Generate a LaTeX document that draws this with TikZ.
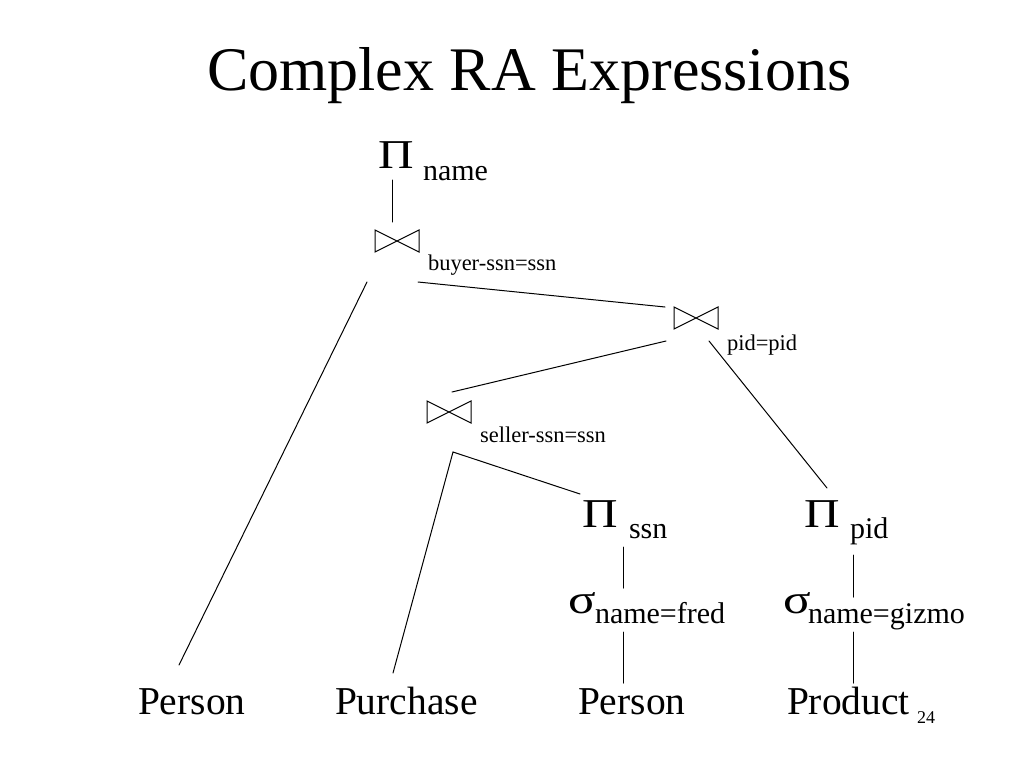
\documentclass[tikz,border=0pt]{standalone}
\usepackage{fontspec}
\setmainfont{Liberation Serif}
\newcommand{\bigPi}{\scalebox{1.2}[1]{Π}}
\newcommand{\bigsigma}{\scalebox{1.25}[1]{σ}}
\begin{document}
\begin{tikzpicture}[x=1pt,y=-1pt,
  txt/.style={inner sep=0pt,outer sep=0pt,anchor=base west},
  title/.style={txt,font=\fontsize{62}{70}\selectfont},
  rel/.style={txt,font=\fontsize{39.5}{44}\selectfont},
  opsym/.style={txt,font=\fontsize{41}{48}\selectfont},
  sub/.style={txt,font=\fontsize{30}{34}\selectfont},
  cond/.style={txt,font=\fontsize{22.5}{26}\selectfont},
  bowtie/.style={inner sep=0pt,outer sep=0pt,minimum width=44pt,minimum height=22pt,anchor=north west},
  edge/.style={line width=1pt,line cap=round},
  tie/.style={line width=1pt,line join=miter}]
\fill[white] (0,0) rectangle (1024,768);
\useasboundingbox (0,0) rectangle (1024,768);

% title
\node[title] (title) at (207,90) {Complex RA Expressions};

% projection on name
\node[opsym] (pname) at (378,168) {\bigPi};
\node[sub] (pnamesub) at (423,180) {name};

% join 1
\node[bowtie] (j1) at (375,230) {};
\node[cond] (j1c) at (428,270) {buyer-ssn=ssn};

% join 2
\node[bowtie] (j2) at (674,307) {};
\node[cond] (j2c) at (727,350) {pid=pid};

% join 3
\node[bowtie] (j3) at (427,401) {};
\node[cond] (j3c) at (480,442) {seller-ssn=ssn};

% projections
\node[opsym] (pssn) at (582,527) {\bigPi};
\node[sub] (pssnsub) at (629,538) {ssn};
\node[opsym] (ppid) at (804,527) {\bigPi};
\node[sub] (ppidsub) at (850,538) {pid};

% selections
\node[opsym] (sfred) at (568,613) {\bigsigma};
\node[sub] (sfredsub) at (595,623) {name=fred};
\node[opsym] (sgiz) at (783,613) {\bigsigma};
\node[sub] (sgizsub) at (808,623) {name=gizmo};

% relations
\node[rel] (person1) at (138,714) {Person};
\node[rel] (purchase) at (335,714) {Purchase};
\node[rel] (person2) at (578,714) {Person};
\node[rel] (product) at (787,714) {Product};
\node[txt,font=\fontsize{18}{21}\selectfont] (pagenum) at (917,723) {24};

% bowtie glyphs
\foreach \j in {j1,j2,j3}
  \draw[tie] (\j.north west) -- (\j.south east) -- (\j.north east) -- (\j.south west) -- cycle;

% connector end points
\coordinate (pname-b) at (392,180);
\coordinate (j1-t) at (392,222);
\coordinate (j1-l) at (367,282);
\coordinate (j1-r) at (418,282);
\coordinate (person1-t) at (179,665);
\coordinate (j2-t) at (665,307);
\coordinate (j2-l) at (666,341);
\coordinate (j2-r) at (709,341);
\coordinate (j3-t) at (452,392);
\coordinate (j3-apex) at (453,452);
\coordinate (purchase-t) at (393,673);
\coordinate (pssn-t) at (580,494);
\coordinate (ppid-t) at (827,488);
\coordinate (pssn-b) at (623,547);
\coordinate (sfred-t) at (623,588);
\coordinate (sfred-b) at (623,632);
\coordinate (person2-t) at (623,683);
\coordinate (ppid-b) at (853,555);
\coordinate (sgiz-t) at (853,597);
\coordinate (sgiz-b) at (853,632);
\coordinate (product-t) at (853,683);

% connectors
\draw[edge] (pname-b) -- (j1-t);
\draw[edge] (j1-l) -- (person1-t);
\draw[edge] (j1-r) -- (j2-t);
\draw[edge] (j2-l) -- (j3-t);
\draw[edge] (j2-r) -- (ppid-t);
\draw[edge] (purchase-t) -- (j3-apex) -- (pssn-t);
\draw[edge] (pssn-b) -- (sfred-t);
\draw[edge] (sfred-b) -- (person2-t);
\draw[edge] (ppid-b) -- (sgiz-t);
\draw[edge] (sgiz-b) -- (product-t);
\end{tikzpicture}
\end{document}
